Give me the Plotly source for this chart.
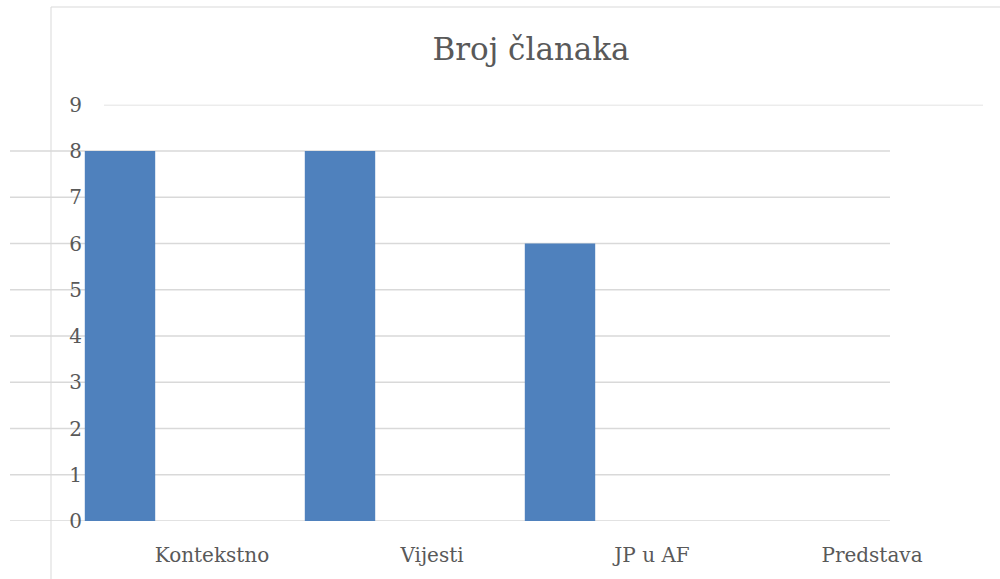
import plotly.graph_objects as go

# chart data
categories = ["Kontekstno", "Vijesti", "JP u AF", "Predstava"]
counts = [8, 8, 6, 0]
y_ticks = [0, 1, 2, 3, 4, 5, 6, 7, 8, 9]

W, H = 1000, 579
font_family = "DejaVu Serif"
text_color = "#595959"
grid_color = "#d9d9d9"

fig = go.Figure()

# bars on the plot area
fig.add_trace(
    go.Bar(
        x=categories,
        y=counts,
        marker=dict(color="#4f81bd", line=dict(width=0)),
        xaxis="x",
        yaxis="y",
        showlegend=False,
        hoverinfo="x+y",
    )
)

# category labels sit on a shifted copy of the axis (as in the source)
fig.add_trace(
    go.Scatter(
        x=categories,
        y=counts,
        mode="none",
        xaxis="x2",
        yaxis="y",
        showlegend=False,
        hoverinfo="skip",
    )
)

# gridlines: 0..8 across the plot area, 9 shifted to the right
shapes = []
for v in y_ticks:
    if v < 9:
        x0, x1 = 10 / W, 890 / W
    else:
        x0, x1 = 104 / W, 983 / W
    shapes.append(
        dict(type="line", xref="paper", yref="y", x0=x0, x1=x1, y0=v, y1=v,
             line=dict(color=grid_color, width=1.5), layer="below")
    )

# chart area border (left and top edges visible)
shapes.append(dict(type="line", xref="paper", yref="paper",
                   x0=51 / W, x1=1.0, y0=1 - 7 / H, y1=1 - 7 / H,
                   line=dict(color=grid_color, width=1), layer="below"))
shapes.append(dict(type="line", xref="paper", yref="paper",
                   x0=51 / W, x1=51 / W, y0=0, y1=1 - 7 / H,
                   line=dict(color=grid_color, width=1), layer="below"))

fig.update_layout(
    width=W,
    height=H,
    margin=dict(l=0, r=0, t=0, b=0, autoexpand=False),
    paper_bgcolor="white",
    plot_bgcolor="rgba(0,0,0,0)",
    font=dict(family=font_family, color=text_color, size=19),
    title=dict(
        text="Broj članaka",
        x=531 / W,
        xanchor="center",
        y=1 - 49 / H,
        yanchor="middle",
        font=dict(size=31, color=text_color, family=font_family),
    ),
    bargap=0.68,
    xaxis=dict(
        domain=[10 / W, 890 / W],
        type="category",
        range=[-0.5, 3.5],
        showticklabels=False,
        showgrid=False,
        zeroline=False,
        showline=False,
        automargin=False,
        fixedrange=True,
    ),
    xaxis2=dict(
        domain=[102 / W, 982 / W],
        anchor="y",
        type="category",
        range=[-0.5, 3.5],
        showgrid=False,
        zeroline=False,
        showline=False,
        automargin=False,
        ticks="",
        ticklabelstandoff=20,
        tickfont=dict(size=20, color=text_color, family=font_family),
    ),
    yaxis=dict(
        domain=[(H - 521) / H, (H - 104.75) / H],
        range=[0, 9],
        anchor="free",
        position=82 / W,
        tickvals=y_ticks,
        showgrid=False,
        zeroline=False,
        showline=False,
        automargin=False,
        ticks="",
        tickfont=dict(size=20, color=text_color, family=font_family),
    ),
    shapes=shapes,
)

fig.write_html(
    "out.html",
    config={"displayModeBar": False},
    post_script="document.body.style.margin='0';document.body.style.overflow='hidden';",
)
